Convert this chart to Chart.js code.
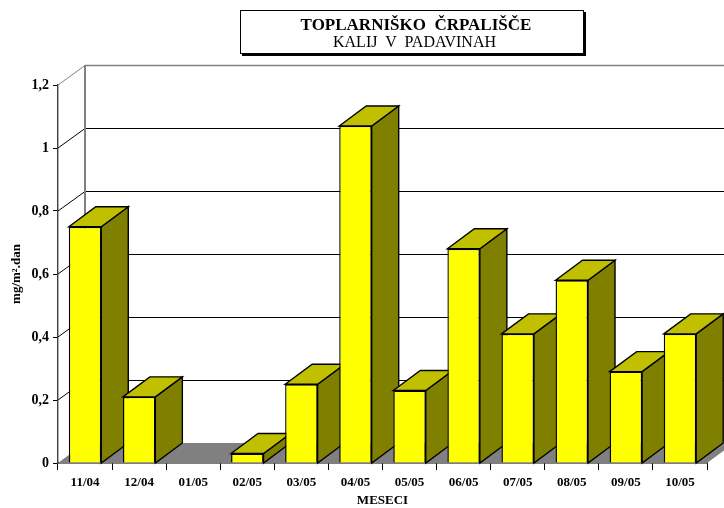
<!DOCTYPE html>
<html>
<head>
<meta charset="utf-8">
<script src="https://cdn.jsdelivr.net/npm/chart.js@4/dist/chart.umd.min.js"></script>
<style>
    html, body { margin: 0; padding: 0; background: #fff; overflow: hidden; }
    #wrap { position: relative; width: 724px; height: 508px; }
    #titleBox {
        position: absolute; left: 240px; top: 10px; width: 334px; height: 42px; padding-left: 8px;
        border: 1px solid #000; background: #fff; box-shadow: 2px 2px 0 #000;
        text-align: center; font-family: "Liberation Serif", serif; color: #000;
    }
    #titleBox .main { font-size: 17px; font-weight: bold; line-height: 17px; margin-top: 5px; white-space: pre; }
    #titleBox .sub { font-size: 16px; line-height: 17px; margin-left: -3px; white-space: pre; }
</style>
</head>
<body>
<div id="wrap">
    <canvas id="chart" width="724" height="508"></canvas>
    <div id="titleBox">
        <div class="main">TOPLARNIŠKO  ČRPALIŠČE</div>
        <div class="sub">KALIJ  V  PADAVINAH</div>
    </div>
</div>
<script>
const months = ['11/04', '12/04', '01/05', '02/05', '03/05', '04/05', '05/05', '06/05', '07/05', '08/05', '09/05', '10/05'];
const kalij = [0.75, 0.21, 0, 0.03, 0.25, 1.07, 0.23, 0.68, 0.41, 0.58, 0.29, 0.41];
const yTicks = [0, 0.2, 0.4, 0.6, 0.8, 1, 1.2];

const DX = 27, DY = -20;   // depth of the 3D box

function poly(ctx, pts, fill, stroke, lw) {
    ctx.beginPath();
    pts.forEach((p, i) => i ? ctx.lineTo(p[0], p[1]) : ctx.moveTo(p[0], p[1]));
    ctx.closePath();
    if (fill) { ctx.fillStyle = fill; ctx.fill(); }
    if (stroke) { ctx.strokeStyle = stroke; ctx.lineWidth = lw; ctx.stroke(); }
}

function line(ctx, x1, y1, x2, y2, color, lw) {
    ctx.beginPath();
    ctx.moveTo(x1, y1);
    ctx.lineTo(x2, y2);
    ctx.strokeStyle = color;
    ctx.lineWidth = lw;
    ctx.stroke();
}

const box3d = {
    id: 'box3d',
    beforeDatasetsDraw(chart) {
        const ctx = chart.ctx, a = chart.chartArea, y = chart.scales.y;
        ctx.save();

        // floor
        poly(ctx, [[a.left, a.bottom], [a.right, a.bottom], [a.right + DX, a.bottom + DY], [a.left + DX, a.bottom + DY]], '#808080');

        // walls and grid, horizontals snapped to a pixel row so they stay crisp
        yTicks.forEach(v => {
            if (v === 0) return;
            const py = y.getPixelForValue(v);
            const back = Math.round(py + DY) + 0.5;
            const top = v === yTicks[yTicks.length - 1];
            line(ctx, a.left, py, a.left + DX, back, top ? '#808080' : '#000', 1);
            line(ctx, a.left + DX, back, a.right + DX, back, top ? '#808080' : '#000', top ? 1.5 : 1);
        });
        line(ctx, a.left + DX, a.top + DY, a.left + DX, a.bottom + DY, '#808080', 2);

        // side and top faces, left to right so that later bars cover earlier ones
        const bars = chart.getDatasetMeta(0).data;
        bars.forEach((b, i) => {
            if (!kalij[i]) return;
            const l = b.x - b.width / 2, r = b.x + b.width / 2, t = b.y, bt = a.bottom;
            poly(ctx, [[r, t], [r + DX, t + DY], [r + DX, bt + DY], [r, bt]], '#808000', '#000', 1.4);
            poly(ctx, [[l, t], [l + DX, t + DY], [r + DX, t + DY], [r, t]], '#c0c000', '#000', 1.4);
        });
        ctx.restore();
    }
};

new Chart(document.getElementById('chart'), {
    type: 'bar',
    data: {
        labels: months,
        datasets: [{
            data: kalij,
            backgroundColor: '#ffff00',
            borderColor: '#000',
            borderWidth: 1.4,
            barPercentage: 0.6,
            categoryPercentage: 1
        }]
    },
    plugins: [box3d],
    options: {
        responsive: false,
        animation: false,
        layout: { padding: { top: 85, right: 17, left: 0, bottom: 0 } },
        plugins: { legend: { display: false }, tooltip: { enabled: false } },
        scales: {
            x: {
                grid: { drawOnChartArea: false, offset: true, tickLength: 7, color: '#000' },
                border: { color: '#000', width: 1.4 },
                ticks: { color: '#000', padding: 5, maxRotation: 0, font: { family: 'Liberation Serif', size: 13, weight: 'bold' } },
                title: { display: true, text: 'MESECI', color: '#000', padding: { top: 4, bottom: 0 }, font: { family: 'Liberation Serif', size: 13, weight: 'bold' } },
                afterFit(s) { s.height = 45; }
            },
            y: {
                min: 0,
                max: 1.2,
                afterBuildTicks(s) { s.ticks = yTicks.map(v => ({ value: v })); },
                grid: { drawOnChartArea: false, tickLength: 5, color: '#000' },
                border: { color: '#404040', width: 1.4 },
                ticks: {
                    color: '#000',
                    padding: 4,
                    font: { family: 'Liberation Serif', size: 14, weight: 'bold' },
                    callback: v => String(v).replace('.', ',')
                },
                title: { display: true, text: 'mg/m².dan', color: '#000', padding: { top: 9, bottom: 0 }, font: { family: 'Liberation Serif', size: 13, weight: 'bold' } },
                afterFit(s) { s.width = 58; }
            }
        }
    }
});
</script>
</body>
</html>
